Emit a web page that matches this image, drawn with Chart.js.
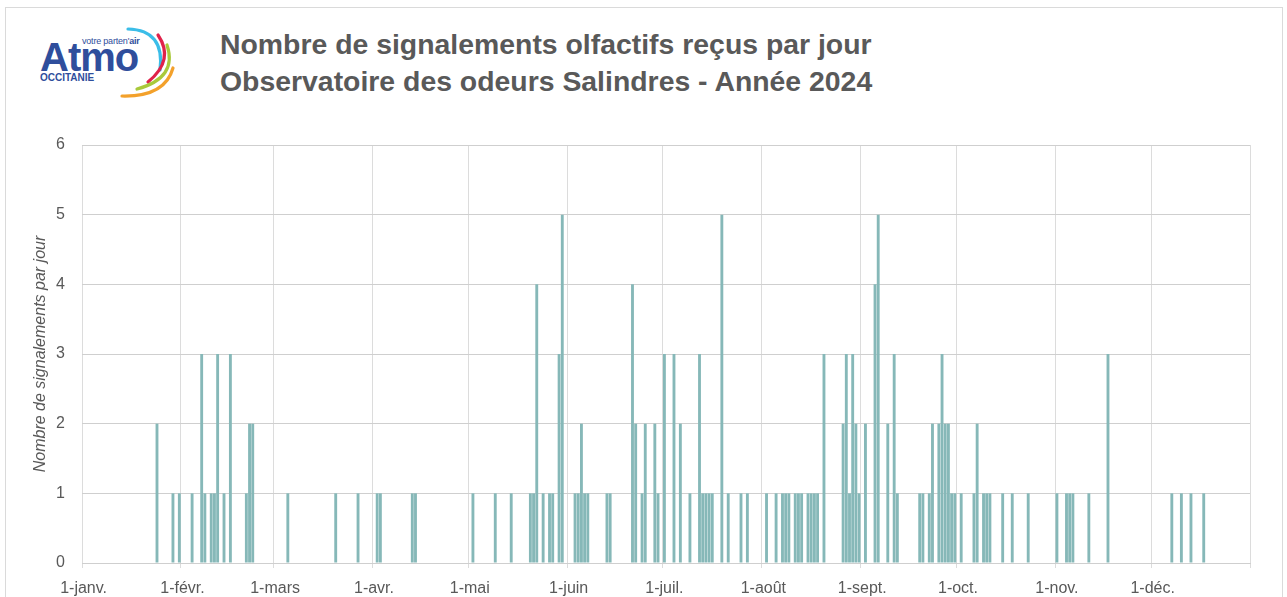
<!DOCTYPE html>
<html>
<head>
<meta charset="utf-8">
<script src="https://cdn.jsdelivr.net/npm/chart.js@4.4.1/dist/chart.umd.min.js"></script>
<style>
  body { margin: 0; background: #fff; overflow: hidden; font-family: "Liberation Sans", Arial, sans-serif; }
  #frame { position: absolute; left: 5px; top: 7px; width: 1276px; height: 620px; border: 1px solid #dadada; }
  #myChart { position: absolute; left: 0; top: 0; }
  .logo-tag { position: absolute; left: 82px; top: 36px; font-size: 9px; color: #2f4e9c; letter-spacing: -0.2px; }
  .logo-atmo { position: absolute; left: 40px; top: 33px; font-size: 40px; font-weight: bold; color: #2f4e9c; letter-spacing: -1px; line-height: 48px; }
  .logo-occ { position: absolute; left: 40px; top: 72px; font-size: 10px; font-weight: bold; color: #2f4e9c; }
  #arcs { position: absolute; left: 0; top: 0; }
  .title { position: absolute; left: 220px; font-size: 28.4px; font-weight: bold; color: #595959; white-space: nowrap; }
</style>
</head>
<body>
<div id="frame"></div>
<svg id="arcs" width="200" height="110">
  <path d="M128,29 Q165,30 160,70" fill="none" stroke="#3bbde8" stroke-width="3.2" stroke-linecap="round"/>
  <path d="M158,35 Q175,60 148,82" fill="none" stroke="#e0224a" stroke-width="3.2" stroke-linecap="round"/>
  <path d="M167,45 Q178,78 137,89" fill="none" stroke="#a9c93b" stroke-width="3.2" stroke-linecap="round"/>
  <path d="M173,68 Q165,97 122,96" fill="none" stroke="#f3a12b" stroke-width="3.2" stroke-linecap="round"/>
</svg>
<span class="logo-tag">votre parten'<b>air</b></span>
<span class="logo-atmo">Atmo</span>
<span class="logo-occ">OCCITANIE</span>
<div class="title" style="top:28px;">Nombre de signalements olfactifs reçus par jour</div>
<div class="title" style="top:65px;">Observatoire des odeurs Salindres - Année 2024</div>
<canvas id="myChart" width="1287" height="597"></canvas>
<script>
const year = 2024;
const monthNames = ["janv.", "févr.", "mars", "avr.", "mai", "juin", "juil.", "août", "sept.", "oct.", "nov.", "déc."];

// jours avec au moins un signalement (mois-jour) et nombre de signalements
const reportDates = [
  "01-24", "01-29", "01-31",
  "02-04", "02-07", "02-08", "02-10", "02-11", "02-12", "02-14", "02-16", "02-21", "02-22", "02-23",
  "03-05", "03-20", "03-27",
  "04-02", "04-03", "04-13", "04-14",
  "05-02", "05-09", "05-14", "05-20", "05-21", "05-22", "05-24", "05-26", "05-27", "05-29", "05-30",
  "06-03", "06-04", "06-05", "06-06", "06-07", "06-13", "06-14", "06-21", "06-22", "06-24", "06-25", "06-28", "06-29",
  "07-01", "07-04", "07-06", "07-09", "07-12", "07-13", "07-14", "07-15", "07-16", "07-19", "07-21", "07-25", "07-27",
  "08-02", "08-05", "08-07", "08-08", "08-09", "08-11", "08-12", "08-13", "08-15", "08-16", "08-17", "08-18", "08-20",
  "08-26", "08-27", "08-28", "08-29", "08-30", "08-31",
  "09-02", "09-05", "09-06", "09-09", "09-11", "09-12", "09-19", "09-20", "09-22", "09-23", "09-25", "09-26", "09-27", "09-28", "09-29", "09-30",
  "10-02", "10-06", "10-07", "10-09", "10-10", "10-11", "10-15", "10-18", "10-23",
  "11-01", "11-04", "11-05", "11-06", "11-11", "11-17",
  "12-07", "12-10", "12-13", "12-17"
];
const reportCounts = [
  2, 1, 1,
  1, 3, 1, 1, 1, 3, 1, 3, 1, 2, 2,
  1, 1, 1,
  1, 1, 1, 1,
  1, 1, 1, 1, 1, 4, 1, 1, 1, 3, 5,
  1, 1, 2, 1, 1, 1, 1, 4, 2, 1, 2, 2, 1,
  3, 3, 2, 1, 3, 1, 1, 1, 1, 5, 1, 1, 1,
  1, 1, 1, 1, 1, 1, 1, 1, 1, 1, 1, 1, 3,
  2, 3, 1, 3, 2, 1,
  2, 4, 5, 2, 3, 1, 1, 1, 1, 2, 2, 3, 2, 2, 1, 1,
  1, 1, 2, 1, 1, 1, 1, 1, 1,
  1, 1, 1, 1, 1, 3,
  1, 1, 1, 1
];
const barColor = "#86b8b8";

// une catégorie par jour de l'année
let dayLabels = [];
let dayCounts = [];
for (let m = 0; m < 12; m++) {
  let nbDays = new Date(Date.UTC(year, m + 1, 0)).getUTCDate();
  for (let d = 1; d <= nbDays; d++) {
    dayLabels.push(`${d}-${monthNames[m]}`);
    let key = String(m + 1).padStart(2, "0") + "-" + String(d).padStart(2, "0");
    let idx = reportDates.indexOf(key);
    dayCounts.push(idx >= 0 ? reportCounts[idx] : 0);
  }
}

Chart.defaults.font.family = "'Liberation Sans', Arial, sans-serif";
Chart.defaults.color = "#595959";

let ctx = document.getElementById("myChart").getContext("2d");

const myChart = new Chart(ctx, {
  type: "bar",
  data: {
    labels: dayLabels,
    datasets: [
      {
        data: dayCounts,
        backgroundColor: barColor,
        categoryPercentage: 1,
        barPercentage: 0.9,
      },
    ],
  },
  options: {
    responsive: false,
    animation: false,
    layout: { padding: { top: 145, right: 37, bottom: 0, left: 31 } },
    plugins: { legend: { display: false }, tooltip: { enabled: false } },
    scales: {
      x: {
        afterFit: (scale) => { scale.height = 34; },
        grid: {
          offset: true,
          tickLength: 5,
          color: (c) => (!c.tick || c.tick.label) ? "#dcdcdc" : "rgba(0,0,0,0)",
        },
        border: { color: "#cfcfcf" },
        ticks: {
          autoSkip: false,
          maxRotation: 0,
          padding: 11,
          font: { size: 16 },
          color: "#595959",
          callback: function (value) {
            let label = this.getLabelForValue(value);
            return label.startsWith("1-") ? label : "";
          },
        },
      },
      y: {
        min: 0,
        max: 6,
        afterFit: (scale) => { scale.width = 51; },
        grid: { color: "#cfcfcf", drawTicks: false },
        border: { display: false },
        ticks: { stepSize: 1, padding: 17, font: { size: 16 }, color: "#595959" },
        title: {
          display: true,
          text: "Nombre de signalements par jour",
          font: { size: 16, style: "italic" },
          color: "#595959",
          padding: 0,
        },
      },
    },
  },
});
</script>
</body>
</html>
